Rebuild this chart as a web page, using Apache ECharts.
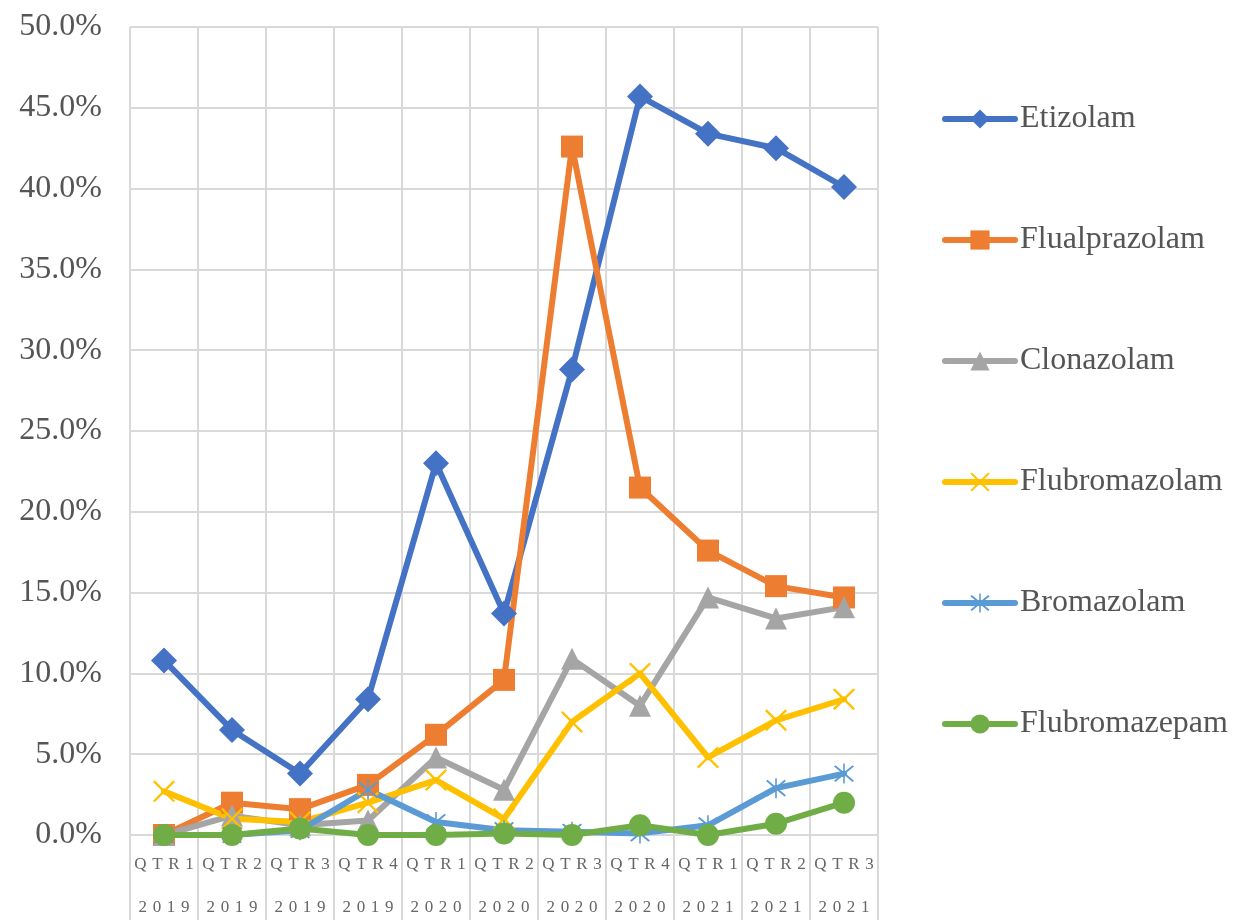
<!DOCTYPE html>
<html><head><meta charset="utf-8">
<script src="https://cdn.jsdelivr.net/npm/echarts@6/dist/echarts.min.js"></script>
<style>html,body{margin:0;padding:0;background:#fff}#c{width:1234px;height:920px}</style>
</head><body><div id="c"></div>
<script>
const categories = ['QTR1\n2019','QTR2\n2019','QTR3\n2019','QTR4\n2019','QTR1\n2020','QTR2\n2020','QTR3\n2020','QTR4\n2020','QTR1\n2021','QTR2\n2021','QTR3\n2021'];
const etizolam      = [10.8, 6.5, 3.8, 8.4, 23.0, 13.7, 28.8, 45.7, 43.4, 42.5, 40.1];
const flualprazolam = [0.0, 2.0, 1.6, 3.1, 6.2, 9.6, 42.6, 21.5, 17.6, 15.4, 14.7];
const clonazolam    = [0.0, 1.2, 0.6, 0.9, 4.8, 2.8, 10.9, 8.0, 14.7, 13.4, 14.1];
const flubromazolam = [2.7, 1.0, 0.8, 2.0, 3.4, 1.0, 7.0, 10.0, 4.8, 7.1, 8.4];
const bromazolam    = [0.0, 0.0, 0.3, 2.8, 0.8, 0.3, 0.2, 0.1, 0.6, 2.9, 3.8];
const flubromazepam = [0.0, 0.0, 0.4, 0.0, 0.0, 0.1, 0.0, 0.6, 0.0, 0.7, 2.0];
const yTicks = {min: 0, max: 50, interval: 5};

const xPath = 'path://M0,1.5 L1.5,0 L10,8.5 L18.5,0 L20,1.5 L11.5,10 L20,18.5 L18.5,20 L10,11.5 L1.5,20 L0,18.5 L8.5,10 Z';
const starPath = 'path://M0,1.5 L1.5,0 L10,8.5 L18.5,0 L20,1.5 L11.5,10 L20,18.5 L18.5,20 L10,11.5 L1.5,20 L0,18.5 L8.5,10 Z M9.2,-2 L10.8,-2 L10.8,22 L9.2,22 Z';

function mk(name, data, color, symbol, size){
  return {name, type:'line', data, symbol, symbolSize:size, showAllSymbol:true,
    lineStyle:{width:6, color, cap:'round', join:'round'}, itemStyle:{color}, emphasis:{disabled:true}};
}

const chart = echarts.init(document.getElementById('c'));
chart.setOption({
  animation:false,
  backgroundColor:'#fff',
  grid:{left:130, right:356, top:27, bottom:85, containLabel:false, outerBoundsMode:'none'},
  legend:{orient:'vertical', left:937, top:98, itemWidth:70, itemHeight:24, itemGap:89,
    lineStyle:{width:6},
    textStyle:{fontFamily:'Liberation Serif', fontSize:32, color:'#555'}},
  xAxis:{type:'category', data:categories, boundaryGap:true,
    axisLine:{lineStyle:{color:'#d9d9d9', width:2}},
    axisTick:{show:true, interval:0, length:85, lineStyle:{color:'#d9d9d9', width:2}},
    splitLine:{show:true, interval:0, lineStyle:{color:'#d9d9d9', width:2}},
    axisLabel:{interval:0, fontFamily:'Liberation Serif', fontSize:17, color:'#666', lineHeight:43, margin:8,
      overflow:'none', width:200, hideOverlap:false,
      formatter: v => v.split('\n').map(s=>s.split('').join('\u2004')).join('\n')}},
  yAxis:{type:'value', min:yTicks.min, max:yTicks.max, interval:yTicks.interval,
    axisLine:{show:false}, axisTick:{show:false},
    splitLine:{lineStyle:{color:'#d9d9d9', width:2}},
    axisLabel:{fontFamily:'Liberation Serif', fontSize:32, color:'#555', margin:28,
      formatter: v => v.toFixed(1)+'%'}},
  series:[
    mk('Etizolam', etizolam, '#4472c4', 'diamond', 26),
    mk('Flualprazolam', flualprazolam, '#ed7d31', 'rect', 22),
    mk('Clonazolam', clonazolam, '#a5a5a5', 'triangle', 22),
    mk('Flubromazolam', flubromazolam, '#ffc000', xPath, 22),
    mk('Bromazolam', bromazolam, '#5b9bd5', starPath, 20),
    mk('Flubromazepam', flubromazepam, '#70ad47', 'circle', 22)
  ]
});
</script></body></html>
